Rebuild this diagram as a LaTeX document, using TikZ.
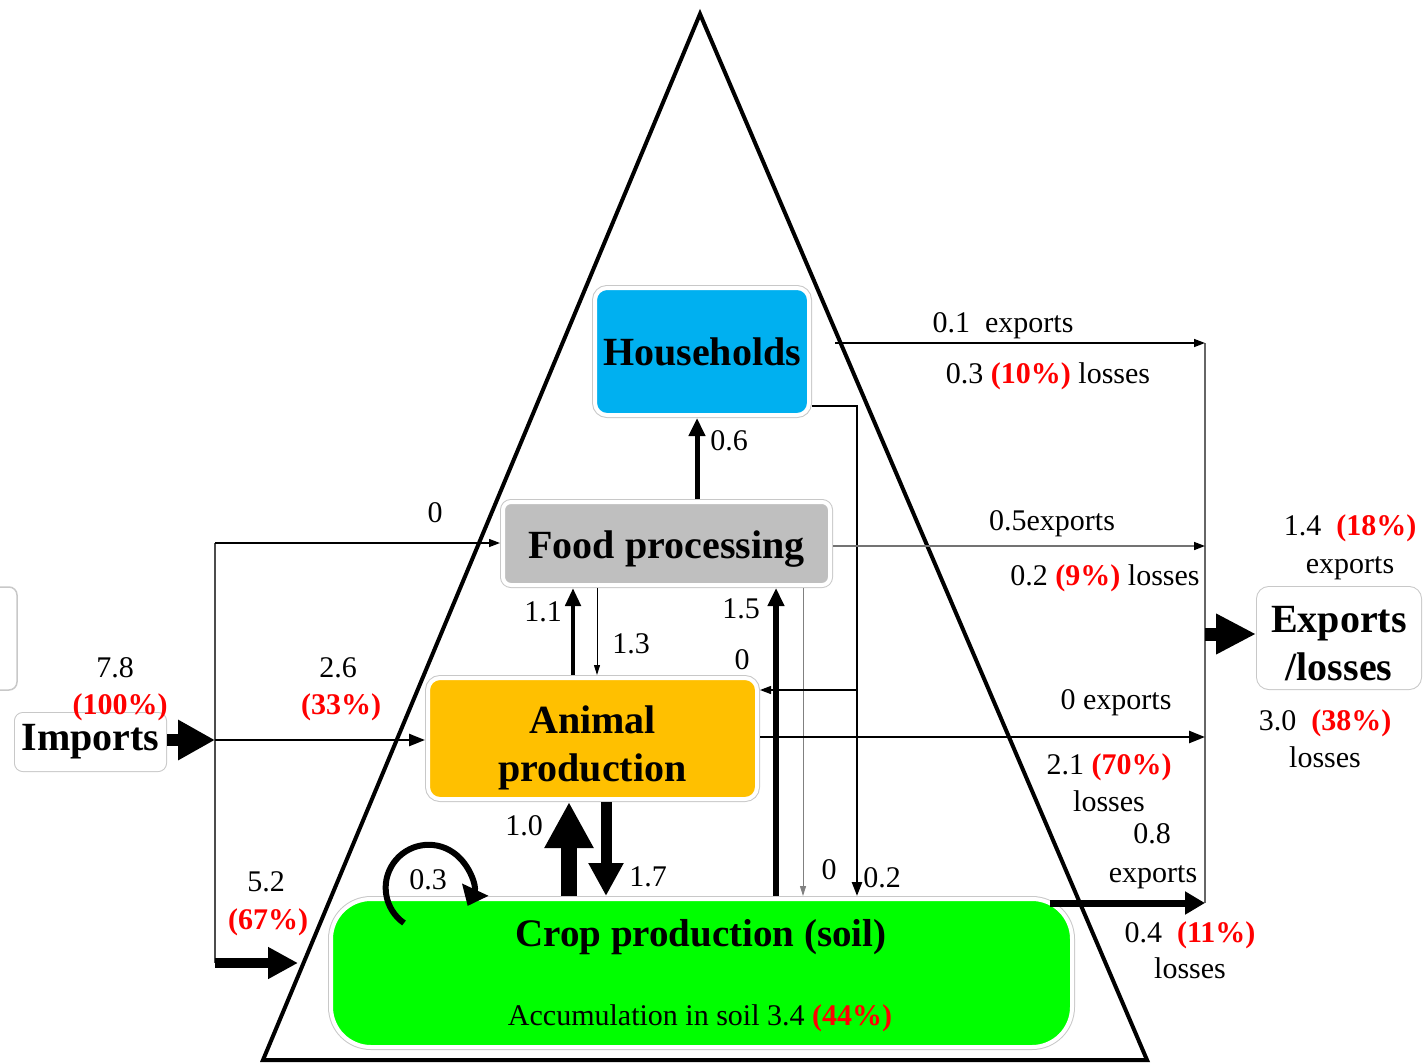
\documentclass[tikz,border=0pt]{standalone}
\usepackage{fontspec}
\setmainfont{Liberation Serif}
\usetikzlibrary{arrows.meta}
\definecolor{hhblue}{HTML}{00B0F0}
\definecolor{fpgray}{HTML}{BFBFBF}
\definecolor{apyellow}{HTML}{FFC000}
\definecolor{cpgreen}{HTML}{00FF00}
\definecolor{pctred}{HTML}{FF0000}
\definecolor{ringgray}{HTML}{C8C8C8}
\newcommand{\redpct}[1]{\textcolor{pctred}{\textbf{(#1\%)}}}
\begin{document}
\begin{tikzpicture}[x=1pt,y=-1pt,
  box/.style={rounded corners=#1, draw=white, line width=4pt,
    preaction={draw=ringgray, line width=6pt}, outer sep=3pt, inner sep=0pt,
    align=center, font=\fontsize{40}{48}\selectfont\bfseries},
  box/.default=10pt,
  lbl/.style={inner sep=0pt, align=center, text height=20pt, text depth=6pt,
    font=\fontsize{30}{34}\selectfont},
  tri/.style={line width=4pt, line join=miter},
  thinarr/.style={line width=#1, -{Triangle[length=11pt,width=8pt]}},
  midarr/.style={line width=#1, -{Triangle[length=16pt,width=12pt]}},
]
\useasboundingbox (0,0) rectangle (1423,1063);

% pyramid
\draw[tri] (700,14) -- (1147,1060) -- (263,1060) -- cycle;

% partial box at the left edge
\draw[ringgray, line width=1.5pt, rounded corners=8pt] (-40,587) rectangle (17,690);

% boxes
\node[box=12pt, fill=hhblue, minimum width=214pt, minimum height=127pt] (hh) at (702,351.5) {Households};
\node[box=8pt, fill=fpgray, minimum width=327pt, minimum height=83pt] (fp) at (666.5,543.5) {\raisebox{-14.5pt}[0pt][0pt]{Food processing}};
\node[box=12pt, fill=apyellow, minimum width=329pt, minimum height=121pt] (ap) at (592.5,738.5) {\raisebox{-16pt}[0pt][0pt]{\begin{tabular}{@{}c@{}}Animal\\production\end{tabular}}};
\node[box=40pt, fill=cpgreen, minimum width=741pt, minimum height=148pt] (cp) at (701.5,973) {};
\node[box=6pt, fill=white, minimum width=147pt, minimum height=54pt] (imp) at (90.5,742) {Imports};
\node[box=10pt, fill=white, minimum width=160pt, minimum height=98pt] (exl) at (1339,638) {\raisebox{-15pt}[0pt][0pt]{\begin{tabular}{@{}c@{}}Exports\\/losses\end{tabular}}};
\node[lbl, font=\fontsize{39}{44}\selectfont\bfseries] (cpt) at (701,939) {Crop production (soil)};
\node[lbl] (cpa) at (700,1018) {Accumulation in soil 3.4 \redpct{44}};

% helper coordinates
\coordinate (jT) at (215,543);
\coordinate (jM) at (215,740);
\coordinate (jB) at (215,963);
\coordinate (tri5) at (298,963);
\coordinate (c569) at (569,0);
\coordinate (c573) at (573,0);
\coordinate (c597) at (597,0);
\coordinate (c606) at (606,0);
\coordinate (c697) at (697,0);
\coordinate (c776) at (776,0);
\coordinate (c803) at (803,0);
\coordinate (h406) at (857,406);
\coordinate (h690) at (857,690);
\coordinate (hhout) at (835,343);
\coordinate (e343) at (1205,343);
\coordinate (e546) at (1205,546);
\coordinate (e634) at (1205,634);
\coordinate (e737) at (1205,737);
\coordinate (cpR) at (1050,903);
\coordinate (e903) at (1205,903);
\coordinate (loopS) at (404,923);

% imports side
\draw[black!70, line width=1.5pt] (jT) -- (jB);
\draw[line width=12pt, -{Triangle[length=37pt,width=38pt]}] (imp.east |- jM) -- (jM);
\draw[thinarr=1.3pt] (jT) -- (fp.west |- jT);
\draw[midarr=2.5pt] (jM) -- (ap.west |- jM);
\draw[line width=10pt, -{Triangle[length=30pt,width=30pt]}] (jB) -- (tri5);

% internal flows
\draw[line width=5pt, -{Triangle[length=18pt,width=16pt]}] (fp.north -| c697) -- (hh.south -| c697);
\draw[line width=4.5pt, -{Triangle[length=18pt,width=15pt]}] (ap.north -| c573) -- (fp.south -| c573);
\draw[line width=1pt, -{Triangle[length=10pt,width=6pt]}] (fp.south -| c597) -- (ap.north -| c597);
\draw[line width=5.5pt, -{Triangle[length=18pt,width=16pt]}] (cp.north -| c776) -- (fp.south -| c776);
\draw[line width=1pt, gray, -{Triangle[length=10pt,width=6pt]}] (fp.south -| c803) -- (cp.north -| c803);
\draw[line width=2.5pt, -{Triangle[length=14pt,width=10pt]}] (hh.east |- h406) -| (cp.north -| h406);
\draw[thinarr=1.2pt] (h690) -- (ap.east |- h690);
\draw[line width=16pt, -{Triangle[length=46pt,width=46pt]}] (cp.north -| c569) -- (ap.south -| c569);
\draw[line width=11pt, -{Triangle[length=33pt,width=33pt]}] (ap.south -| c606) -- (cp.north -| c606);
\draw[line width=6pt, -{Triangle[length=18pt,width=28pt]}] (loopS) arc[start angle=235, end angle=-25, radius=43pt];

% outflows
\draw[black!60, line width=1.5pt] (e343) -- (e903);
\draw[thinarr=1.5pt] (hhout) -- (e343);
\draw[black!55, line width=1.5pt, -{Triangle[length=11pt,width=8pt,color=black]}] (fp.east |- e546) -- (e546);
\draw[midarr=2.5pt] (ap.east |- e737) -- (e737);
\draw[line width=7pt, -{Triangle[length=20pt,width=22pt]}] (cpR) -- (e903);
\draw[line width=13pt, -{Triangle[length=40pt,width=38pt]}] (e634) -- (exl.west |- e634);

% labels
\node[lbl] (t01) at (435,515) {0};
\node[lbl] (t02) at (115,670) {7.8};
\node[lbl] (t03) at (120,707) {\redpct{100}};
\node[lbl] (t04) at (338,670) {2.6};
\node[lbl] (t05) at (341,707) {\redpct{33}};
\node[lbl] (t06) at (266,884) {5.2};
\node[lbl] (t07) at (268,922) {\redpct{67}};
\node[lbl] (t08) at (729,443) {0.6};
\node[lbl] (t09) at (543,614) {1.1};
\node[lbl] (t10) at (631,646) {1.3};
\node[lbl] (t11) at (741,611) {1.5};
\node[lbl] (t12) at (742,662) {0};
\node[lbl] (t13) at (524,828) {1.0};
\node[lbl] (t14) at (648,879) {1.7};
\node[lbl] (t15) at (428,882) {0.3};
\node[lbl] (t16) at (829,872) {0};
\node[lbl] (t17) at (882,880) {0.2};
\node[lbl] (t18) at (1003,325) {0.1~ exports};
\node[lbl] (t19) at (1048,376) {0.3 \redpct{10} losses};
\node[lbl] (t20) at (1052,523) {0.5exports};
\node[lbl] (t21) at (1105,578) {0.2 \redpct{9} losses};
\node[lbl] (t22) at (1116,702) {0 exports};
\node[lbl] (t23) at (1109,767) {2.1 \redpct{70}};
\node[lbl] (t24) at (1109,804) {losses};
\node[lbl] (t25) at (1152,836) {0.8};
\node[lbl] (t26) at (1153,875) {exports};
\node[lbl] (t27) at (1190,935) {0.4~ \redpct{11}};
\node[lbl] (t28) at (1190,971) {losses};
\node[lbl] (t29) at (1350,528) {1.4~ \redpct{18}};
\node[lbl] (t30) at (1350,566) {exports};
\node[lbl] (t31) at (1325,723) {3.0~ \redpct{38}};
\node[lbl] (t32) at (1325,760) {losses};
\end{tikzpicture}
\end{document}
